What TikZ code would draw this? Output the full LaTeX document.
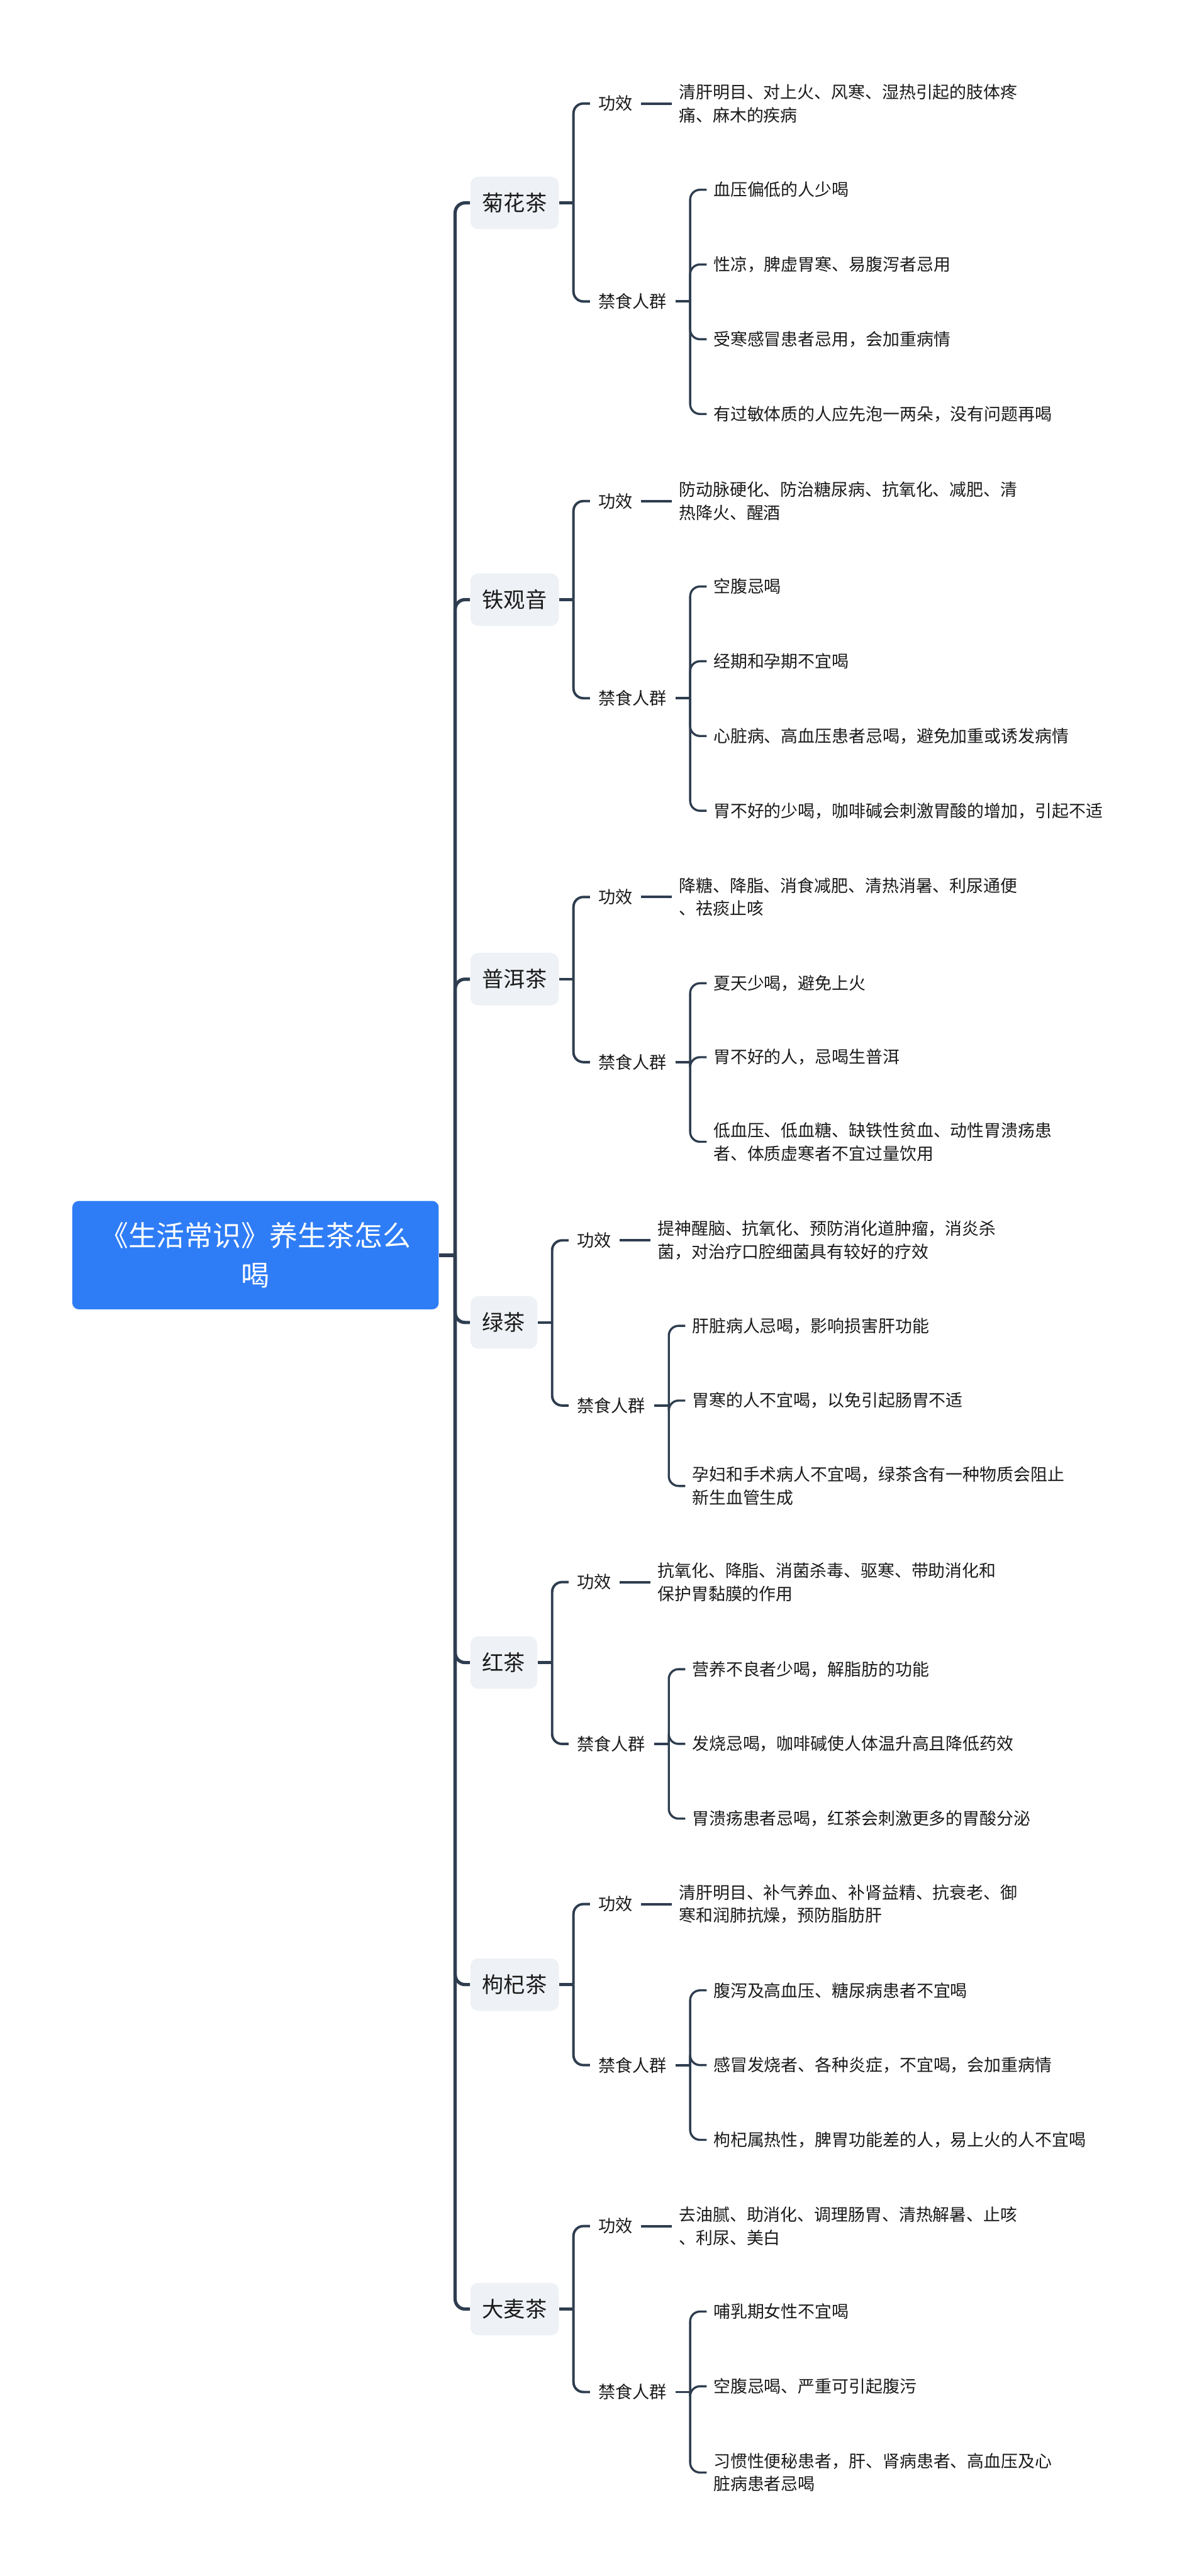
\documentclass[tikz,border=0pt]{standalone}
\usepackage{fontspec}
\setmainfont{Noto Sans CJK SC}
\usepackage{xcolor}
\usepackage{tikz}
\definecolor{rootBlue}{HTML}{2F7DF6}
\definecolor{teaBg}{HTML}{EEF1F5}
\definecolor{linkGray}{HTML}{2E3D4F}
\definecolor{txtBlack}{HTML}{1A1A1A}
\tikzset{
    rootNode/.style={fill=rootBlue, text=white, rounded corners=4pt,
                     font=\fontsize{17.2}{24}\selectfont, align=center,
                     minimum width=223pt, minimum height=66pt, inner sep=0pt},
    teaNode/.style={fill=teaBg, rounded corners=5pt, text=txtBlack,
                    font=\fontsize{13.1}{16}\selectfont, inner xsep=7.3pt,
                    inner ysep=0pt, minimum height=32pt, anchor=west},
    catNode/.style={font=\fontsize{10.4}{14}\selectfont, text=txtBlack,
                    inner xsep=5pt, inner ysep=2pt, anchor=west},
    leafNode/.style={font=\fontsize{10.3}{14}\selectfont, text=txtBlack,
                     inner xsep=4pt, inner ysep=2pt, align=left, anchor=west},
    rootStub/.style={draw=linkGray, line width=2.5pt},
    trunkLine/.style={draw=linkGray, line width=2pt, rounded corners=6pt},
    midStub/.style={draw=linkGray, line width=1.7pt},
    midLink/.style={draw=linkGray, line width=1.5pt, rounded corners=6pt},
    leafStub/.style={draw=linkGray, line width=1.5pt},
    leafLink/.style={draw=linkGray, line width=1.3pt, rounded corners=6pt},
}

\begin{document}
\begin{tikzpicture}[x=1pt,y=-1pt]
\useasboundingbox (0,0) rectangle (722,1568);

% ---------------- ROOT ----------------
\node[rootNode] (root) at (155.5,764) {《生活常识》养生茶怎么\\喝};
\coordinate (trunk) at (277,764);

% ---------------- 菊花茶 ----------------
\node[teaNode] (juhua) at (286,123.5) {菊花茶};
\coordinate (juhuaT) at (349,123.5);
\node[catNode] (juhuaGx) at (359,63) {功效};
\node[leafNode] (juhuaGx1) at (409,63)
     {清肝明目、对上火、风寒、湿热引起的肢体疼\\痛、麻木的疾病};
\node[catNode] (juhuaJs) at (359,183.5) {禁食人群};
\coordinate (juhuaJsT) at (420,183.5);
\node[leafNode] (juhuaJs1) at (430,115.5) {血压偏低的人少喝};
\node[leafNode] (juhuaJs2) at (430,161) {性凉，脾虚胃寒、易腹泻者忌用};
\node[leafNode] (juhuaJs3) at (430,206.5) {受寒感冒患者忌用，会加重病情};
\node[leafNode] (juhuaJs4) at (430,252) {有过敏体质的人应先泡一两朵，没有问题再喝};

% ---------------- 铁观音 ----------------
\node[teaNode] (tgy) at (286,365) {铁观音};
\coordinate (tgyT) at (349,365);
\node[catNode] (tgyGx) at (359,305) {功效};
\node[leafNode] (tgyGx1) at (409,305)
     {防动脉硬化、防治糖尿病、抗氧化、减肥、清\\热降火、醒酒};
\node[catNode] (tgyJs) at (359,425) {禁食人群};
\coordinate (tgyJsT) at (420,425);
\node[leafNode] (tgyJs1) at (430,357) {空腹忌喝};
\node[leafNode] (tgyJs2) at (430,402.5) {经期和孕期不宜喝};
\node[leafNode] (tgyJs3) at (430,448) {心脏病、高血压患者忌喝，避免加重或诱发病情};
\node[leafNode] (tgyJs4) at (430,493.5) {胃不好的少喝，咖啡碱会刺激胃酸的增加，引起不适};

% ---------------- 普洱茶 ----------------
\node[teaNode] (puer) at (286,596) {普洱茶};
\coordinate (puerT) at (349,596);
\node[catNode] (puerGx) at (359,546) {功效};
\node[leafNode] (puerGx1) at (409,546)
     {降糖、降脂、消食减肥、清热消暑、利尿通便\\、祛痰止咳};
\node[catNode] (puerJs) at (359,646.5) {禁食人群};
\coordinate (puerJsT) at (420,646.5);
\node[leafNode] (puerJs1) at (430,598.5) {夏天少喝，避免上火};
\node[leafNode] (puerJs2) at (430,643.5) {胃不好的人，忌喝生普洱};
\node[leafNode] (puerJs3) at (430,695)
     {低血压、低血糖、缺铁性贫血、动性胃溃疡患\\者、体质虚寒者不宜过量饮用};

% ---------------- 绿茶 ----------------
\node[teaNode] (lvcha) at (286,805) {绿茶};
\coordinate (lvchaT) at (336,805);
\node[catNode] (lvchaGx) at (346,755) {功效};
\node[leafNode] (lvchaGx1) at (396,755)
     {提神醒脑、抗氧化、预防消化道肿瘤，消炎杀\\菌，对治疗口腔细菌具有较好的疗效};
\node[catNode] (lvchaJs) at (346,855.5) {禁食人群};
\coordinate (lvchaJsT) at (407,855.5);
\node[leafNode] (lvchaJs1) at (417,807) {肝脏病人忌喝，影响损害肝功能};
\node[leafNode] (lvchaJs2) at (417,852.5) {胃寒的人不宜喝，以免引起肠胃不适};
\node[leafNode] (lvchaJs3) at (417,904.5)
     {孕妇和手术病人不宜喝，绿茶含有一种物质会阻止\\新生血管生成};

% ---------------- 红茶 ----------------
\node[teaNode] (hongcha) at (286,1012) {红茶};
\coordinate (hongchaT) at (336,1012);
\node[catNode] (hongchaGx) at (346,963) {功效};
\node[leafNode] (hongchaGx1) at (396,963)
     {抗氧化、降脂、消菌杀毒、驱寒、带助消化和\\保护胃黏膜的作用};
\node[catNode] (hongchaJs) at (346,1061.5) {禁食人群};
\coordinate (hongchaJsT) at (407,1061.5);
\node[leafNode] (hongchaJs1) at (417,1016) {营养不良者少喝，解脂肪的功能};
\node[leafNode] (hongchaJs2) at (417,1061.5) {发烧忌喝，咖啡碱使人体温升高且降低药效};
\node[leafNode] (hongchaJs3) at (417,1107) {胃溃疡患者忌喝，红茶会刺激更多的胃酸分泌};

% ---------------- 枸杞茶 ----------------
\node[teaNode] (gouqi) at (286,1208) {枸杞茶};
\coordinate (gouqiT) at (349,1208);
\node[catNode] (gouqiGx) at (359,1159) {功效};
\node[leafNode] (gouqiGx1) at (409,1159)
     {清肝明目、补气养血、补肾益精、抗衰老、御\\寒和润肺抗燥，预防脂肪肝};
\node[catNode] (gouqiJs) at (359,1257) {禁食人群};
\coordinate (gouqiJsT) at (420,1257);
\node[leafNode] (gouqiJs1) at (430,1211.5) {腹泻及高血压、糖尿病患者不宜喝};
\node[leafNode] (gouqiJs2) at (430,1257) {感冒发烧者、各种炎症，不宜喝，会加重病情};
\node[leafNode] (gouqiJs3) at (430,1302.5) {枸杞属热性，脾胃功能差的人，易上火的人不宜喝};

% ---------------- 大麦茶 ----------------
\node[teaNode] (damai) at (286,1405.5) {大麦茶};
\coordinate (damaiT) at (349,1405.5);
\node[catNode] (damaiGx) at (359,1355) {功效};
\node[leafNode] (damaiGx1) at (409,1355)
     {去油腻、助消化、调理肠胃、清热解暑、止咳\\、利尿、美白};
\node[catNode] (damaiJs) at (359,1456) {禁食人群};
\coordinate (damaiJsT) at (420,1456);
\node[leafNode] (damaiJs1) at (430,1407) {哺乳期女性不宜喝};
\node[leafNode] (damaiJs2) at (430,1452.5) {空腹忌喝、严重可引起腹污};
\node[leafNode] (damaiJs3) at (430,1505)
     {习惯性便秘患者，肝、肾病患者、高血压及心\\脏病患者忌喝};

% ---------------- CONNECTORS ----------------
% root -> teas
\draw[rootStub] (root.east) -- (trunk);
\draw[trunkLine] (trunk) |- (juhua.west);
\draw[trunkLine] (trunk) |- (tgy.west);
\draw[trunkLine] (trunk) |- (puer.west);
\draw[trunkLine] (trunk) |- (lvcha.west);
\draw[trunkLine] (trunk) |- (hongcha.west);
\draw[trunkLine] (trunk) |- (gouqi.west);
\draw[trunkLine] (trunk) |- (damai.west);

% teas -> 功效 / 禁食人群
\draw[midStub] (juhua.east) -- (juhuaT);
\draw[midLink] (juhuaT) |- (juhuaGx.west);
\draw[midLink] (juhuaT) |- (juhuaJs.west);
\draw[midStub] (tgy.east) -- (tgyT);
\draw[midLink] (tgyT) |- (tgyGx.west);
\draw[midLink] (tgyT) |- (tgyJs.west);
\draw[midStub] (puer.east) -- (puerT);
\draw[midLink] (puerT) |- (puerGx.west);
\draw[midLink] (puerT) |- (puerJs.west);
\draw[midStub] (lvcha.east) -- (lvchaT);
\draw[midLink] (lvchaT) |- (lvchaGx.west);
\draw[midLink] (lvchaT) |- (lvchaJs.west);
\draw[midStub] (hongcha.east) -- (hongchaT);
\draw[midLink] (hongchaT) |- (hongchaGx.west);
\draw[midLink] (hongchaT) |- (hongchaJs.west);
\draw[midStub] (gouqi.east) -- (gouqiT);
\draw[midLink] (gouqiT) |- (gouqiGx.west);
\draw[midLink] (gouqiT) |- (gouqiJs.west);
\draw[midStub] (damai.east) -- (damaiT);
\draw[midLink] (damaiT) |- (damaiGx.west);
\draw[midLink] (damaiT) |- (damaiJs.west);

% 功效 -> text
\draw[leafStub] (juhuaGx.east) -- (juhuaGx1.west);
\draw[leafStub] (tgyGx.east) -- (tgyGx1.west);
\draw[leafStub] (puerGx.east) -- (puerGx1.west);
\draw[leafStub] (lvchaGx.east) -- (lvchaGx1.west);
\draw[leafStub] (hongchaGx.east) -- (hongchaGx1.west);
\draw[leafStub] (gouqiGx.east) -- (gouqiGx1.west);
\draw[leafStub] (damaiGx.east) -- (damaiGx1.west);

% 禁食人群 -> items
\draw[leafStub] (juhuaJs.east) -- (juhuaJsT);
\draw[leafLink] (juhuaJsT) |- (juhuaJs1.west);
\draw[leafLink] (juhuaJsT) |- (juhuaJs2.west);
\draw[leafLink] (juhuaJsT) |- (juhuaJs3.west);
\draw[leafLink] (juhuaJsT) |- (juhuaJs4.west);
\draw[leafStub] (tgyJs.east) -- (tgyJsT);
\draw[leafLink] (tgyJsT) |- (tgyJs1.west);
\draw[leafLink] (tgyJsT) |- (tgyJs2.west);
\draw[leafLink] (tgyJsT) |- (tgyJs3.west);
\draw[leafLink] (tgyJsT) |- (tgyJs4.west);
\draw[leafStub] (puerJs.east) -- (puerJsT);
\draw[leafLink] (puerJsT) |- (puerJs1.west);
\draw[leafLink] (puerJsT) |- (puerJs2.west);
\draw[leafLink] (puerJsT) |- (puerJs3.west);
\draw[leafStub] (lvchaJs.east) -- (lvchaJsT);
\draw[leafLink] (lvchaJsT) |- (lvchaJs1.west);
\draw[leafLink] (lvchaJsT) |- (lvchaJs2.west);
\draw[leafLink] (lvchaJsT) |- (lvchaJs3.west);
\draw[leafStub] (hongchaJs.east) -- (hongchaJsT);
\draw[leafLink] (hongchaJsT) |- (hongchaJs1.west);
\draw[leafLink] (hongchaJsT) |- (hongchaJs2.west);
\draw[leafLink] (hongchaJsT) |- (hongchaJs3.west);
\draw[leafStub] (gouqiJs.east) -- (gouqiJsT);
\draw[leafLink] (gouqiJsT) |- (gouqiJs1.west);
\draw[leafLink] (gouqiJsT) |- (gouqiJs2.west);
\draw[leafLink] (gouqiJsT) |- (gouqiJs3.west);
\draw[leafStub] (damaiJs.east) -- (damaiJsT);
\draw[leafLink] (damaiJsT) |- (damaiJs1.west);
\draw[leafLink] (damaiJsT) |- (damaiJs2.west);
\draw[leafLink] (damaiJsT) |- (damaiJs3.west);

\end{tikzpicture}
\end{document}
